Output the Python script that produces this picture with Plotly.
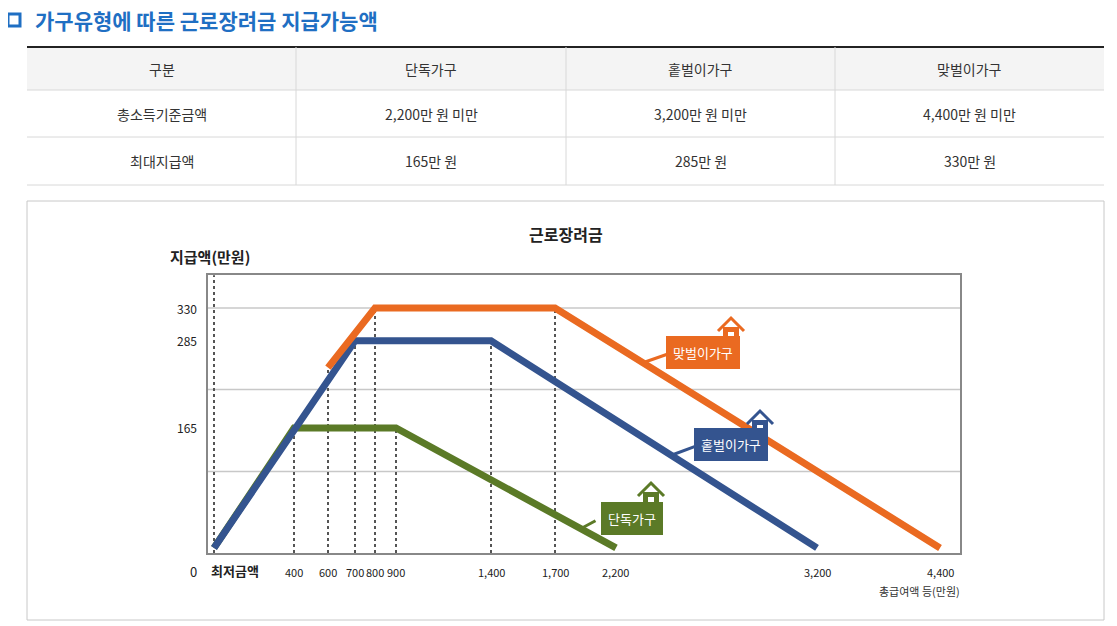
import plotly.graph_objects as go

W, H = 1117, 626
OFF = 8  # page body margin
FONT = "Noto Sans CJK KR"

# ── Data ─────────────────────────────────────────────────────────────────────
household = ["단독가구", "홑벌이가구", "맞벌이가구"]
income_limit = ["2,200만 원 미만", "3,200만 원 미만", "4,400만 원 미만"]
max_benefit = ["165만 원", "285만 원", "330만 원"]

# income breakpoints (만원) and their positions on the (non-linear) drawn axis
income_ticks = [400, 600, 700, 800, 900, 1400, 1700, 2200, 3200, 4400]
tick_pos = [294, 328, 355, 375, 396, 491, 555, 616, 817, 940]
zero_pos = 214

single_x = [0, 400, 900, 2200]
single_y = [0, 165, 165, 0]
one_x = [0, 700, 1400, 3200]
one_y = [0, 285, 285, 0]
dual_x = [600, 800, 1700, 4400]
dual_y = [248, 330, 330, 0]

y_ticks = [165, 285, 330]
y_grid = [105, 218, 330]

C_SINGLE = "#5b7a27"
C_ONE = "#34548f"
C_DUAL = "#ea6a21"

POS = dict(zip([0] + income_ticks, [zero_pos] + tick_pos))


def pos(xs):
    return [POS[x] for x in xs]


def px(x):
    return (x - OFF) / W


def py(y):
    return 1 - (y - OFF) / H


fig = go.Figure()

# dotted guides from the axis up to each breakpoint
gx, gy = [], []
for x, y in [(0, 375), (400, 165), (600, 248), (700, 285), (800, 330),
             (900, 165), (1400, 285), (1700, 330)]:
    gx += [POS[x], POS[x], None]
    gy += [-7, y, None]
fig.add_trace(go.Scatter(x=gx, y=gy, mode="lines", hoverinfo="skip",
                         line=dict(color="#555", width=2, dash="dot")))

for xs, ys, c in [(single_x, single_y, C_SINGLE), (one_x, one_y, C_ONE),
                  (dual_x, dual_y, C_DUAL)]:
    fig.add_trace(go.Scatter(x=pos(xs), y=ys, mode="lines",
                             line=dict(color=c, width=7)))

shapes = []
ann = []


def rect(x0, y0, x1, y1, **kw):
    shapes.append(dict(type="rect", xref="paper", yref="paper",
                       x0=px(x0), x1=px(x1), y0=py(y1), y1=py(y0), **kw))


def hline(x0, x1, y, color, width):
    shapes.append(dict(type="line", xref="paper", yref="paper", x0=px(x0),
                       x1=px(x1), y0=py(y), y1=py(y),
                       line=dict(color=color, width=width)))


# ── Table ────────────────────────────────────────────────────────────────────
col_edges = [27, 296, 566, 835, 1104]
row_edges = [47, 90, 137, 185]
rect(27, 47, 1104, 90, fillcolor="#f4f4f4", line_width=0)
for y in row_edges[1:]:
    hline(27, 1104, y, "#d8d8d8", 1)
hline(27, 1104, 47, "#222", 2)
for x in col_edges[1:-1]:
    shapes.append(dict(type="line", xref="paper", yref="paper", x0=px(x), x1=px(x),
                       y0=py(185), y1=py(47), line=dict(color="#d8d8d8", width=1)))
rows = [["구분"] + household,
        ["총소득기준금액"] + income_limit,
        ["최대지급액"] + max_benefit]
for r, row in enumerate(rows):
    cy = (row_edges[r] + row_edges[r + 1]) / 2
    for c, txt in enumerate(row):
        cx = (col_edges[c] + col_edges[c + 1]) / 2
        ann.append(dict(text=txt, x=px(cx), y=py(cy),
                        font=dict(size=14, color="#333")))

# ── Chart frame, heading ─────────────────────────────────────────────────────
rect(27, 201, 1104, 620, line=dict(color="#c8c8c8", width=1))
rect(8, 14, 20, 26, fillcolor="white", line=dict(color="#1f6fc3", width=3))
for g in y_grid:
    shapes.append(dict(type="line", xref="paper", yref="y", x0=px(208),
                       x1=px(960), y0=g, y1=g, layer="below",
                       line=dict(color="#c8c8c8", width=1.5)))


def house(cx, by, color):
    shapes.append(dict(type="path", xref="paper", yref="paper",
                       path=f"M {px(cx-13)},{py(by-9)} L {px(cx)},{py(by-22)} L {px(cx+13)},{py(by-9)}",
                       line=dict(color=color, width=3)))
    rect(cx - 8, by - 13, cx + 8, by, fillcolor=color, line_width=0)
    rect(cx - 3, by - 8, cx + 3, by - 1, fillcolor="white", line_width=0)


house(731, 340, C_DUAL)
house(760, 433, C_ONE)
house(651, 505, C_SINGLE)

ann += [
    dict(text="<b>가구유형에 따른 근로장려금 지급가능액</b>", x=px(33), y=py(20),
         xanchor="left", font=dict(size=21, color="#1f6fc3")),
    dict(text="<b>근로장려금</b>", x=px(566), y=py(234),
         font=dict(size=16, color="#222")),
    dict(text="<b>지급액(만원)</b>", x=px(168), y=py(256), xanchor="left",
         font=dict(size=15, color="#222")),
    dict(text="0", x=px(193), y=py(571), font=dict(size=13, color="#222")),
    dict(text="<b>최저금액</b>", x=px(235), y=py(570),
         font=dict(size=13, color="#222")),
    dict(text="총급여액 등(만원)", x=px(962), y=py(591), xanchor="right",
         font=dict(size=11, color="#333")),
]
for v, p in zip(income_ticks, tick_pos):
    ann.append(dict(text=f"{v:,}", x=px(p), y=py(572),
                    font=dict(size=11, color="#222")))
for v in y_ticks:
    ann.append(dict(text=str(v), x=px(199), y=v, yref="y", xanchor="right",
                    font=dict(size=12, color="#222")))

for text, cx, cy, tx, ty, c in [("맞벌이가구", 703, 352, 645, 362, C_DUAL),
                                ("홑벌이가구", 731, 444, 672, 455, C_ONE),
                                ("단독가구", 632, 518, 582, 528, C_SINGLE)]:
    ann.append(dict(x=px(tx), y=py(ty), ax=(cx - 35) - tx, ay=(cy + 2) - ty,
                    axref="pixel", ayref="pixel", showarrow=True, arrowhead=0,
                    arrowwidth=3, arrowcolor=c, text=""))
    ann.append(dict(text=text, x=px(cx), y=py(cy), bgcolor=c, bordercolor=c,
                    borderpad=6, borderwidth=1,
                    font=dict(size=13, color="white")))
for a in ann:
    a.setdefault("xref", "paper")
    a.setdefault("yref", "paper")
    a.setdefault("xanchor", "center")
    a.setdefault("yanchor", "middle")
    a.setdefault("showarrow", False)

fig.update_layout(
    width=W, height=H, margin=dict(l=0, r=0, t=0, b=0),
    paper_bgcolor="white", plot_bgcolor="white", showlegend=False,
    font=dict(family=FONT),
    xaxis=dict(domain=[px(208), px(960)], range=[208, 960], showgrid=False,
               showticklabels=False, zeroline=False, showline=True, mirror=True,
               linecolor="#888", linewidth=2),
    yaxis=dict(domain=[py(553), py(275)], range=[-7, 375.4], showgrid=False,
               showticklabels=False, zeroline=False, showline=True, mirror=True,
               linecolor="#888", linewidth=2),
    shapes=shapes, annotations=ann,
)

fig.write_html("out.html")
